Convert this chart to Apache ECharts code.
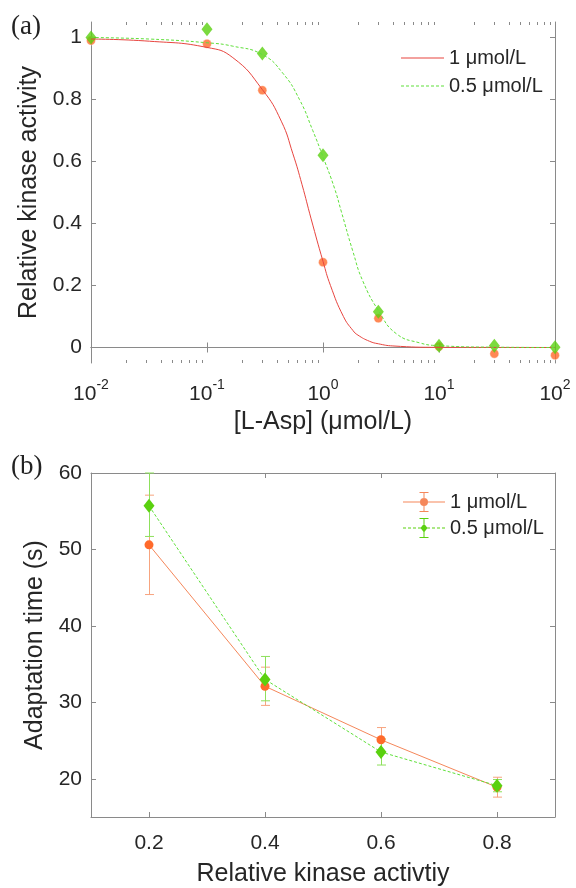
<!DOCTYPE html>
<html>
<head>
<meta charset="utf-8">
<script src="https://cdn.jsdelivr.net/npm/echarts@6/dist/echarts.min.js"></script>
<style>
  html, body { margin: 0; padding: 0; background: #fff; }
  #chart { width: 576px; height: 888px; }
</style>
</head>
<body>
<div id="chart"></div>
<script>
// panel (a): measured points
const aspConc = [0.01, 0.1, 0.3, 1, 3, 10, 30, 100];
const act1 = [0.99, 0.98, 0.83, 0.275, 0.094, 0.003, -0.02, -0.025];
const act05 = [1.0, 1.027, 0.948, 0.62, 0.115, 0.006, 0.006, 0.001];

// panel (a): fitted curves
const fitX1 = [0.01, 0.032, 0.1, 0.167, 0.3, 0.437, 0.55, 0.66, 0.79, 1.0, 1.16, 1.5, 1.81, 2.0, 2.52, 3.0, 4.0, 10, 100];
const fitY1 = [0.995, 0.988, 0.968, 0.935, 0.832, 0.73, 0.625, 0.525, 0.415, 0.278, 0.2, 0.1, 0.055, 0.04, 0.02, 0.012, 0.005, 0.0005, 0];
const fitX05 = [0.01, 0.032, 0.1, 0.167, 0.3, 0.45, 0.627, 0.816, 1.0, 1.256, 1.435, 1.81, 2.2, 3.03, 4.27, 6.8, 10, 30, 100];
const fitY05 = [1.0, 0.995, 0.983, 0.972, 0.945, 0.885, 0.8, 0.7, 0.615, 0.514, 0.44, 0.31, 0.215, 0.117, 0.045, 0.015, 0.006, 0.001, 0];

// minor tick positions of the log axis
const logMinor = [0.02, 0.03, 0.04, 0.05, 0.06, 0.07, 0.08, 0.09,
  0.2, 0.3, 0.4, 0.5, 0.6, 0.7, 0.8, 0.9,
  2, 3, 4, 5, 6, 7, 8, 9,
  20, 30, 40, 50, 60, 70, 80, 90];

// panel (b)
const kinase = [0.2, 0.4, 0.6, 0.8];
const time1 = [50.6, 32.1, 25.1, 18.9];
const time1Lo = [44.1, 29.6, 23.5, 17.6];
const time1Hi = [57.1, 34.6, 26.7, 20.2];
const time05 = [55.7, 33.0, 23.5, 19.1];
const time05Lo = [51.7, 30.2, 21.8, 18.3];
const time05Hi = [60.0, 36.0, 25.2, 19.9];

const yTicksA = [0, 0.2, 0.4, 0.6, 0.8, 1];
const yTicksB = [20, 30, 40, 50, 60];
const xTicksB = [0.2, 0.4, 0.6, 0.8];

const NAME1 = '1 μmol/L';
const NAME05 = '0.5 μmol/L';

const RED = '#e8453f';
const ORANGE = '#ff6a2b';
const ORANGE_LINE = '#f5875a';
const ORANGE_ERR = '#f7a47f';
const GREEN = '#5ad10f';
const GREEN_LINE = '#5fe03a';
const GREEN_ERR = '#8ee05c';
const AXIS = '#8a8a8a';
const TEXT = '#262626';
const FONT = 'Liberation Sans';

const zip = (xs, ys) => xs.map((x, i) => [x, ys[i]]);

const spine = { show: true, lineStyle: { color: AXIS, width: 1 } };
const tickIn = (len) => ({ show: true, inside: true, length: len, lineStyle: { color: AXIS } });
const labelStyle = { color: TEXT, fontFamily: FONT, fontSize: 21 };
const nameStyle = { color: TEXT, fontFamily: FONT, fontSize: 25 };

function errorBars(lo, hi, color) {
  return {
    type: 'custom',
    xAxisIndex: 2, yAxisIndex: 2,
    silent: true,
    data: kinase.map((x, i) => [x, lo[i], hi[i]]),
    encode: { x: 0, y: [1, 2] },
    renderItem(params, api) {
      const x = api.value(0);
      const a = api.coord([x, api.value(1)]);
      const b = api.coord([x, api.value(2)]);
      const px = Math.round(a[0]) + 0.5;
      const st = { stroke: color, lineWidth: 1 };
      return {
        type: 'group',
        children: [
          { type: 'line', shape: { x1: px, y1: a[1], x2: px, y2: b[1] }, style: st },
          { type: 'line', shape: { x1: px - 4.5, y1: a[1], x2: px + 4.5, y2: a[1] }, style: st },
          { type: 'line', shape: { x1: px - 4.5, y1: b[1], x2: px + 4.5, y2: b[1] }, style: st }
        ]
      };
    }
  };
}

// legend glyphs
const iconLine = 'path://M0 0H43V1H0Z';
const iconDash = 'path://M0 0H3V1H0Z M5 0H8V1H5Z M10 0H13V1H10Z M15 0H18V1H15Z M20 0H23V1H20Z M25 0H28V1H25Z M30 0H33V1H30Z M35 0H38V1H35Z M40 0H43V1H40Z';
const iconErr1 = 'path://M0 10H42V11H0Z M20.5 1H21.5V20H20.5Z M16.5 0.5H25.5V1.5H16.5Z M16.5 19.5H25.5V20.5H16.5Z M17 10.5A4 4 0 1 1 25 10.5A4 4 0 1 1 17 10.5Z';
const iconErr05 = 'path://M0 10H3V11H0Z M5 10H8V11H5Z M10 10H13V11H10Z M15 10H18V11H15Z M24 10H27V11H24Z M29 10H32V11H29Z M34 10H37V11H34Z M39 10H42V11H39Z M20.5 1H21.5V20H20.5Z M16.5 0.5H25.5V1.5H16.5Z M16.5 19.5H25.5V20.5H16.5Z M21 6L24.5 10.5L21 15L17.5 10.5Z';

const option = {
  animation: false,
  backgroundColor: '#fff',
  title: [
    { text: '(a)', left: 6, top: 8, textStyle: { fontFamily: 'Liberation Serif', fontSize: 27, fontWeight: 'normal', color: '#222' } },
    { text: '(b)', left: 6, top: 448, textStyle: { fontFamily: 'Liberation Serif', fontSize: 27, fontWeight: 'normal', color: '#222' } }
  ],
  legend: [
    {
      orient: 'vertical', left: 396, top: 43, itemWidth: 43, itemHeight: 14, itemGap: 8,
      symbolKeepAspect: true, selectedMode: false,
      textStyle: { color: TEXT, fontFamily: FONT, fontSize: 20 },
      data: [
        { name: NAME1, icon: iconLine, itemStyle: { color: RED, borderWidth: 0 } },
        { name: NAME05, icon: iconDash, itemStyle: { color: GREEN_LINE, borderWidth: 0 } }
      ]
    },
    {
      orient: 'vertical', left: 398, top: 487, itemWidth: 42, itemHeight: 21, itemGap: 6,
      symbolKeepAspect: true, selectedMode: false,
      textStyle: { color: TEXT, fontFamily: FONT, fontSize: 20 },
      data: [
        { name: NAME1, icon: iconErr1, itemStyle: { color: ORANGE_LINE, borderWidth: 0 } },
        { name: NAME05, icon: iconErr05, itemStyle: { color: GREEN, borderWidth: 0 } }
      ]
    }
  ],
  grid: [
    { left: 91, right: 21, top: 22, height: 341 },
    { left: 91, right: 21, top: 473, height: 348 }
  ],
  xAxis: [
    {
      gridIndex: 0, type: 'log', logBase: 10, min: 0.01, max: 100, interval: 1,
      axisLine: spine, axisTick: tickIn(5), splitLine: { show: false },
      axisLabel: {
        ...labelStyle, margin: 15,
        formatter: (v) => '{b|10}{s|' + Math.round(Math.log10(v)) + '}',
        rich: {
          b: { fontFamily: FONT, fontSize: 21, color: TEXT, lineHeight: 27, verticalAlign: 'bottom' },
          s: { fontFamily: FONT, fontSize: 14, color: TEXT, lineHeight: 14, verticalAlign: 'top' }
        }
      },
      name: '[L-Asp] (μmol/L)', nameLocation: 'middle', nameGap: 47, nameTextStyle: nameStyle
    },
    {
      gridIndex: 0, type: 'log', logBase: 10, min: 0.01, max: 100, interval: 1, position: 'top',
      axisLine: spine, axisTick: tickIn(5), axisLabel: { show: false }, splitLine: { show: false }
    },
    {
      gridIndex: 1, type: 'value', min: 0.1, max: 0.9,
      axisLine: spine, splitLine: { show: false },
      axisTick: { ...tickIn(5), customValues: xTicksB },
      axisLabel: { ...labelStyle, margin: 16, customValues: xTicksB },
      name: 'Relative kinase activtiy', nameLocation: 'middle', nameGap: 45, nameTextStyle: nameStyle
    },
    {
      gridIndex: 1, type: 'value', min: 0.1, max: 0.9, position: 'top',
      axisLine: spine, splitLine: { show: false }, axisLabel: { show: false },
      axisTick: { ...tickIn(5), customValues: xTicksB }
    }
  ],
  yAxis: [
    {
      gridIndex: 0, type: 'value', min: -0.05, max: 1.05,
      axisLine: spine, splitLine: { show: false },
      axisTick: { ...tickIn(5), customValues: yTicksA },
      axisLabel: { ...labelStyle, margin: 9, customValues: yTicksA },
      name: 'Relative kinase activity', nameLocation: 'middle', nameGap: 39, nameTextStyle: nameStyle
    },
    {
      gridIndex: 0, type: 'value', min: -0.05, max: 1.05, position: 'right',
      axisLine: spine, splitLine: { show: false }, axisLabel: { show: false },
      axisTick: { ...tickIn(5), customValues: yTicksA }
    },
    {
      gridIndex: 1, type: 'value', min: 15, max: 60,
      axisLine: spine, splitLine: { show: false },
      axisTick: { ...tickIn(5), customValues: yTicksB },
      axisLabel: { ...labelStyle, margin: 9, customValues: yTicksB },
      name: 'Adaptation time (s)', nameLocation: 'middle', nameGap: 36, nameTextStyle: nameStyle
    },
    {
      gridIndex: 1, type: 'value', min: 15, max: 60, position: 'right',
      axisLine: spine, splitLine: { show: false }, axisLabel: { show: false },
      axisTick: { ...tickIn(5), customValues: yTicksB }
    }
  ],
  series: [
    {
      name: NAME1, type: 'line', xAxisIndex: 0, yAxisIndex: 0,
      data: zip(fitX1, fitY1), symbol: 'none', smooth: 0.5,
      lineStyle: { color: RED, width: 1 }, itemStyle: { color: RED }
    },
    {
      name: NAME05, type: 'line', xAxisIndex: 0, yAxisIndex: 0,
      data: zip(fitX05, fitY05), symbol: 'none', smooth: 0.5,
      lineStyle: { color: GREEN_LINE, width: 1, type: [3, 2] }, itemStyle: { color: GREEN_LINE }
    },
    {
      // minor ticks of the log axis, bottom and top
      type: 'custom', xAxisIndex: 0, yAxisIndex: 0, silent: true,
      data: logMinor.map((v) => [v, 0]),
      encode: { x: 0, y: 1 },
      renderItem(params, api) {
        const px = Math.round(api.coord([api.value(0), 0])[0]) + 0.5;
        const cs = params.coordSys;
        const st = { stroke: AXIS, lineWidth: 1 };
        return {
          type: 'group',
          children: [
            { type: 'line', shape: { x1: px, y1: cs.y + cs.height, x2: px, y2: cs.y + cs.height - 3 }, style: st },
            { type: 'line', shape: { x1: px, y1: cs.y, x2: px, y2: cs.y + 3 }, style: st }
          ]
        };
      }
    },
    {
      type: 'scatter', xAxisIndex: 0, yAxisIndex: 0, data: zip(aspConc, act1),
      symbol: 'circle', symbolSize: 9, itemStyle: { color: ORANGE, borderColor: '#fff', borderWidth: 0.5 }, silent: true
    },
    {
      type: 'scatter', xAxisIndex: 0, yAxisIndex: 0, data: zip(aspConc, act05),
      symbol: 'diamond', symbolSize: [11, 14], itemStyle: { color: GREEN }, silent: true
    },
    errorBars(time1Lo, time1Hi, ORANGE_ERR),
    errorBars(time05Lo, time05Hi, GREEN_ERR),
    {
      name: NAME1, type: 'line', xAxisIndex: 2, yAxisIndex: 2, data: zip(kinase, time1),
      symbol: 'circle', symbolSize: 9, lineStyle: { color: ORANGE_LINE, width: 1 },
      itemStyle: { color: ORANGE }, silent: true
    },
    {
      name: NAME05, type: 'line', xAxisIndex: 2, yAxisIndex: 2, data: zip(kinase, time05),
      symbol: 'diamond', symbolSize: [11, 14], lineStyle: { color: GREEN_LINE, width: 1, type: [3, 2] },
      itemStyle: { color: GREEN }, silent: true
    }
  ]
};

const chart = echarts.init(document.getElementById('chart'), null, { renderer: 'canvas' });
chart.setOption(option);
</script>
</body>
</html>
